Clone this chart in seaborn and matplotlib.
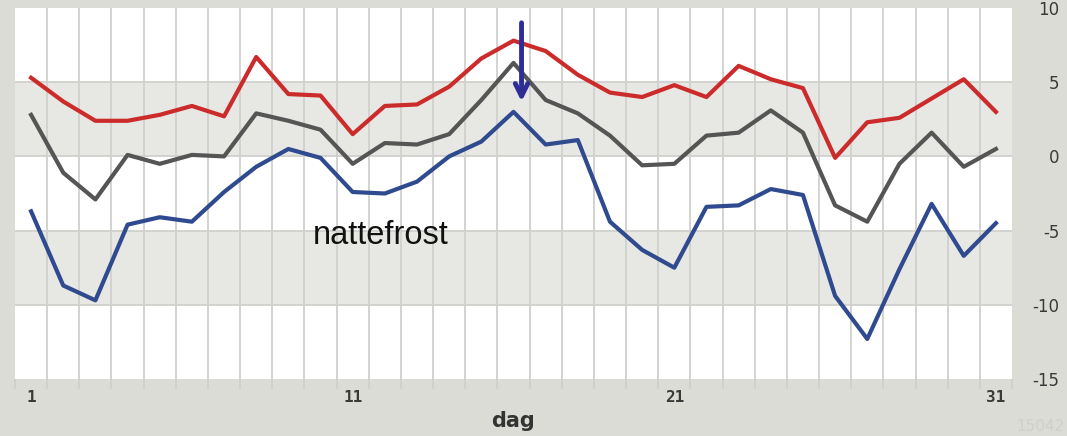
import numpy as np
import pandas as pd
import matplotlib
matplotlib.use("Agg")
import matplotlib.pyplot as plt
import seaborn as sns

days = list(range(1, 32))
tmax = [5.3, 3.7, 2.4, 2.4, 2.8, 3.4, 2.7, 6.7, 4.2, 4.1,
        1.5, 3.4, 3.5, 4.7, 6.6, 7.8, 7.1, 5.5, 4.3, 4.0,
        4.8, 4.0, 6.1, 5.2, 4.6, -0.1, 2.3, 2.6, 3.9, 5.2, 3.0]
tmean = [2.8, -1.1, -2.9, 0.1, -0.5, 0.1, 0.0, 2.9, 2.4, 1.8,
         -0.5, 0.9, 0.8, 1.5, 3.8, 6.3, 3.8, 2.9, 1.4, -0.6,
         -0.5, 1.4, 1.6, 3.1, 1.6, -3.3, -4.4, -0.5, 1.6, -0.7, 0.5]
tmin = [-3.7, -8.7, -9.7, -4.6, -4.1, -4.4, -2.4, -0.7, 0.5, -0.1,
        -2.4, -2.5, -1.7, 0.0, 1.0, 3.0, 0.8, 1.1, -4.4, -6.3,
        -7.5, -3.4, -3.3, -2.2, -2.6, -9.4, -12.3, -7.6, -3.2, -6.7, -4.5]
series_names = ["max", "middel", "min"]
xtick_labels = ["1", "11", "21", "31"]
ytick_values = [-15, -10, -5, 0, 5, 10]
annotation_text = "nattefrost"
xlabel_text = "dag"
corner_text = "15042"

df = pd.DataFrame({
    "dag": days * 3,
    "temp": tmax + tmean + tmin,
    "serie": [series_names[0]] * 31 + [series_names[1]] * 31 + [series_names[2]] * 31,
})

bg = "#dcdcd6"
band = "#e7e7e3"
grid = "#d0d0cc"

fig = plt.figure(figsize=(10.67, 4.36), dpi=100, facecolor=bg)
ax = fig.add_axes([15 / 1067, 1 - 379 / 436, 997 / 1067, 371 / 436])
ax.set_facecolor("white")

ax.axhspan(0, 5, color=band, zorder=0, lw=0)
ax.axhspan(-10, -5, color=band, zorder=0, lw=0)
for yv in [-10, -5, 0, 5]:
    ax.axhline(yv, color=grid, lw=1.3, zorder=1)
for xv in np.arange(1.5, 31, 1.0):
    ax.axvline(xv, color=grid, lw=1.3, zorder=1)

palette = {"max": "#cc2b2b", "middel": "#555555", "min": "#2f4a8e"}
sns.lineplot(data=df, x="dag", y="temp", hue="serie", palette=palette,
             legend=False, linewidth=3.0, ax=ax, zorder=3)

ax.set_xlim(0.5, 31.5)
ax.set_ylim(-15, 10)
for s in ax.spines.values():
    s.set_visible(False)

ax.set_xticks([1, 11, 21, 31])
ax.set_xticklabels(xtick_labels, family="DejaVu Sans Mono", fontweight="bold",
                   fontsize=11.5, color="#3a3a3a")
ax.set_xticks(np.arange(0.5, 32, 1.0), minor=True)
ax.tick_params(axis="x", which="major", length=0, pad=8)
ax.tick_params(axis="x", which="minor", length=7, width=1.3, color=grid)

ax.yaxis.tick_right()
ax.set_yticks(ytick_values)
ax.set_yticklabels([str(v) for v in ytick_values], fontsize=12, color="#3a3a3a",
                   ha="right")
ax.tick_params(axis="y", length=0, pad=34)

ax.set_xlabel(xlabel_text, fontsize=15, fontweight="bold", color="#333333",
              labelpad=4)
ax.set_ylabel("")

ax.text(9.76, -5.3, annotation_text, fontsize=23.5, family="Liberation Sans",
        color="#111111", ha="left", va="center", zorder=5)

ax.annotate("", xy=(16.25, 3.7), xytext=(16.25, 9.0),
            arrowprops=dict(arrowstyle="->,head_length=0.9,head_width=0.45",
                            color="#2e2e96", lw=3.5, shrinkA=0, shrinkB=0),
            zorder=6)

fig.text(0.998, 0.004, corner_text, fontsize=11, color="#d0d0cb", ha="right",
         va="bottom")

fig.savefig("out.png", dpi=100, facecolor=bg)
